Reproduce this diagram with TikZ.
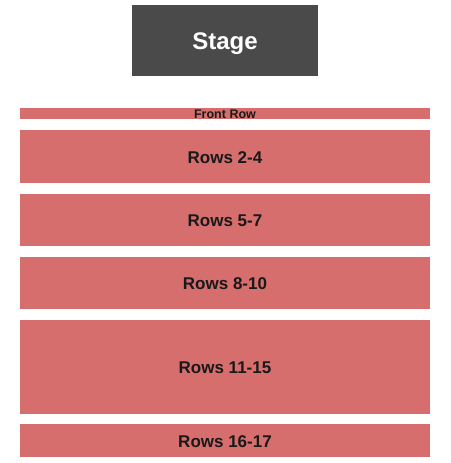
\documentclass[tikz,border=0pt]{standalone}
\usepackage{fontspec}
\setmainfont{Liberation Sans}
\definecolor{secred}{RGB}{214,110,110}
\definecolor{stagegray}{RGB}{74,74,74}
\begin{document}
\begin{tikzpicture}[x=1pt,y=-1pt,
  sect/.style={fill=secred,draw=none},
  lbl/.style={font=\bfseries\fontsize{17}{17}\selectfont,text=black!90,inner sep=0pt}]
\useasboundingbox[fill=white] (0,0) rectangle (450,463);
\fill[stagegray] (132,5) rectangle (318,76);
\node[font=\bfseries\fontsize{24}{24}\selectfont,text=white,inner sep=0pt] (stage) at (225,43.5) {Stage};
\fill[sect] (20,108) rectangle (430,119);
\node[font=\bfseries\fontsize{12.5}{12.5}\selectfont,text=black!90,inner sep=0pt] (front) at (225,114.5) {Front Row};
\fill[sect] (20,130) rectangle (430,183);
\node[lbl] (r24) at (225,158) {Rows 2-4};
\fill[sect] (20,194) rectangle (430,246);
\node[lbl] (r57) at (225,221) {Rows 5-7};
\fill[sect] (20,257) rectangle (430,309);
\node[lbl] (r810) at (225,284) {Rows 8-10};
\fill[sect] (20,320) rectangle (430,414);
\node[lbl] (r1115) at (225,368) {Rows 11-15};
\fill[sect] (20,424) rectangle (430,457);
\node[lbl] (r1617) at (225,442) {Rows 16-17};
\end{tikzpicture}
\end{document}
